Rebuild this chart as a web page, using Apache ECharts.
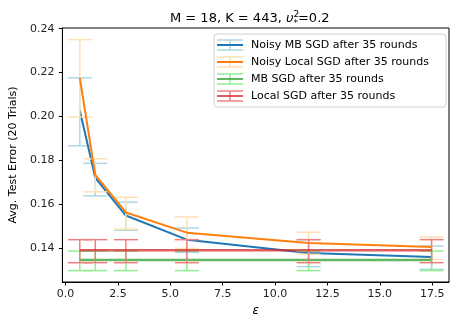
<!DOCTYPE html>
<html>
<head>
<meta charset="utf-8">
<script src="https://cdn.jsdelivr.net/npm/echarts@6/dist/echarts.min.js"></script>
<style>
  html, body { margin: 0; padding: 0; background: #fff; }
  #chart { width: 457px; height: 326px; }
</style>
</head>
<body>
<div id="chart"></div>
<script>
// epsilon values on the x axis
const eps = [0.68, 1.42, 2.88, 5.79, 11.6, 17.47];

// Noisy MB SGD
const noisyMb = [0.2027, 0.1720, 0.1548, 0.1438, 0.1377, 0.1359];
const noisyMbLo = [0.1866, 0.1638, 0.1481, 0.1380, 0.1315, 0.1303];
const noisyMbHi = [0.2176, 0.1786, 0.1609, 0.1491, 0.1438, 0.1409];

// Noisy Local SGD
const noisyLocal = [0.2176, 0.1733, 0.1562, 0.1470, 0.1423, 0.1405];
const noisyLocalLo = [0.1997, 0.1656, 0.1486, 0.1398, 0.1371, 0.1348];
const noisyLocalHi = [0.2350, 0.1807, 0.1631, 0.1542, 0.1472, 0.1450];

// MB SGD (no noise)
const mb = [0.1345, 0.1345, 0.1345, 0.1345, 0.1345, 0.1345];
const mbLo = [0.1297, 0.1297, 0.1297, 0.1297, 0.1297, 0.1297];
const mbHi = [0.1386, 0.1386, 0.1386, 0.1386, 0.1386, 0.1386];

// Local SGD (no noise)
const local = [0.1390, 0.1390, 0.1390, 0.1390, 0.1390, 0.1390];
const localLo = [0.1333, 0.1333, 0.1333, 0.1333, 0.1333, 0.1333];
const localHi = [0.1438, 0.1438, 0.1438, 0.1438, 0.1438, 0.1438];

const xTicks = [0, 2.5, 5, 7.5, 10, 12.5, 15, 17.5];
const yTicks = [0.14, 0.16, 0.18, 0.20, 0.22, 0.24];

const names = [
  'Noisy MB SGD after 35 rounds',
  'Noisy Local SGD after 35 rounds',
  'MB SGD after 35 rounds',
  'Local SGD after 35 rounds'
];
const lineColors = ['#1f77b4', '#ff7f0e', 'rgba(44,160,44,0.75)', 'rgba(214,39,40,0.75)'];
const barColors = ['#add8e6', '#ffe0b4', '#90ee90', '#f08080'];

const FONT = 'DejaVu Sans';

function barData(lo, hi) {
  return eps.map(function (x, i) { return [x, lo[i], hi[i]]; });
}

function renderBar(params, api) {
  const x = api.value(0);
  const top = api.coord([x, api.value(2)]);
  const bot = api.coord([x, api.value(1)]);
  const style = { stroke: api.visual('color'), lineWidth: 1.5 };
  return {
    type: 'group',
    children: [
      { type: 'line', shape: { x1: top[0], y1: top[1], x2: bot[0], y2: bot[1] }, style: style },
      { type: 'line', shape: { x1: top[0] - 12, y1: top[1], x2: top[0] + 12, y2: top[1] }, style: style },
      { type: 'line', shape: { x1: bot[0] - 12, y1: bot[1], x2: bot[0] + 12, y2: bot[1] }, style: style }
    ]
  };
}

const means = [noisyMb, noisyLocal, mb, local];
const bars = [barData(noisyMbLo, noisyMbHi), barData(noisyLocalLo, noisyLocalHi), barData(mbLo, mbHi), barData(localLo, localHi)];

const series = [];
for (let i = 0; i < 4; i++) {
  series.push({
    name: names[i] + ' bars',
    type: 'custom',
    renderItem: renderBar,
    itemStyle: { color: barColors[i] },
    encode: { x: 0, y: [1, 2] },
    data: bars[i],
    z: 2 + i * 2,
    silent: true
  });
  series.push({
    name: names[i],
    type: 'line',
    showSymbol: false,
    symbol: 'none',
    lineStyle: { color: lineColors[i], width: i < 2 ? 2 : 2.4 },
    data: eps.map(function (x, k) { return [x, means[i][k]]; }),
    z: 3 + i * 2,
    silent: true
  });
}

// legend drawn by hand so each entry gets the errorbar glyph
const legendRows = [45, 62, 79, 96];
const legendItems = [{
  type: 'rect',
  shape: { x: 214, y: 34, width: 232, height: 73, r: 3 },
  style: { fill: 'rgba(255,255,255,0.85)', stroke: '#d0d0d0', lineWidth: 1 },
  z: 100
}];
legendRows.forEach(function (cy, i) {
  const lx0 = 217, lx1 = 243, cx = 230;
  legendItems.push(
    { type: 'line', shape: { x1: cx, y1: cy - 5, x2: cx, y2: cy + 5 }, style: { stroke: barColors[i], lineWidth: 1.5 }, z: 101 },
    { type: 'line', shape: { x1: lx0, y1: cy - 5, x2: lx1, y2: cy - 5 }, style: { stroke: barColors[i], lineWidth: 1.5 }, z: 101 },
    { type: 'line', shape: { x1: lx0, y1: cy + 5, x2: lx1, y2: cy + 5 }, style: { stroke: barColors[i], lineWidth: 1.5 }, z: 101 },
    { type: 'line', shape: { x1: lx0, y1: cy, x2: lx1, y2: cy }, style: { stroke: lineColors[i], lineWidth: 2 }, z: 102 },
    { type: 'text', x: 251, y: cy, style: { text: names[i], fontFamily: FONT, fontSize: 11, fill: '#000', verticalAlign: 'middle' }, z: 102 }
  );
});

const chart = echarts.init(document.getElementById('chart'), null, { renderer: 'canvas' });
chart.setOption({
  animation: false,
  backgroundColor: '#fff',
  textStyle: { fontFamily: FONT },
  title: {
    text: '{a|M = 18, K = 443, }{u|υ}{p|2}{b|*}{a|=0.2}',
    left: 165,
    top: 5,
    textStyle: {
      fontWeight: 'normal',
      rich: {
        a: { fontFamily: FONT, fontSize: 13, fontWeight: 'normal', color: '#000', lineHeight: 18 },
        u: { fontFamily: FONT, fontSize: 13, fontWeight: 'normal', fontStyle: 'italic', color: '#000', lineHeight: 18 },
        p: { fontFamily: FONT, fontSize: 9, fontWeight: 'normal', color: '#000', width: 0, verticalAlign: 'top', lineHeight: 18 },
        b: { fontFamily: FONT, fontSize: 9, fontWeight: 'normal', color: '#000', verticalAlign: 'bottom', lineHeight: 18 }
      }
    }
  },
  grid: {
    left: 61, right: 8, top: 28, bottom: 44,
    show: true, borderColor: '#000', borderWidth: 1, backgroundColor: 'transparent'
  },
  xAxis: {
    type: 'value',
    min: -0.15,
    max: 18.3,
    name: 'ε',
    nameLocation: 'middle',
    nameGap: 22,
    nameTextStyle: { fontFamily: FONT, fontSize: 12, fontStyle: 'italic', color: '#000' },
    axisLine: { show: true, onZero: false, lineStyle: { color: '#000', width: 1 } },
    axisTick: { show: true, customValues: xTicks, length: 3.5, lineStyle: { color: '#000' } },
    axisLabel: {
      customValues: xTicks,
      formatter: function (v) { return v.toFixed(1); },
      color: '#222', fontSize: 11, fontFamily: FONT, margin: 7
    },
    splitLine: { show: false }
  },
  yAxis: {
    type: 'value',
    min: 0.1245,
    max: 0.2403,
    name: 'Avg. Test Error (20 Trials)',
    nameLocation: 'middle',
    nameGap: 40,
    nameTextStyle: { fontFamily: FONT, fontSize: 11, color: '#000' },
    axisLine: { show: true, onZero: false, lineStyle: { color: '#000', width: 1 } },
    axisTick: { show: true, customValues: yTicks, length: 3.5, lineStyle: { color: '#000' } },
    axisLabel: {
      customValues: yTicks,
      formatter: function (v) { return v.toFixed(2); },
      color: '#222', fontSize: 11, fontFamily: FONT, margin: 8
    },
    splitLine: { show: false }
  },
  graphic: legendItems,
  series: series
});
</script>
</body>
</html>
